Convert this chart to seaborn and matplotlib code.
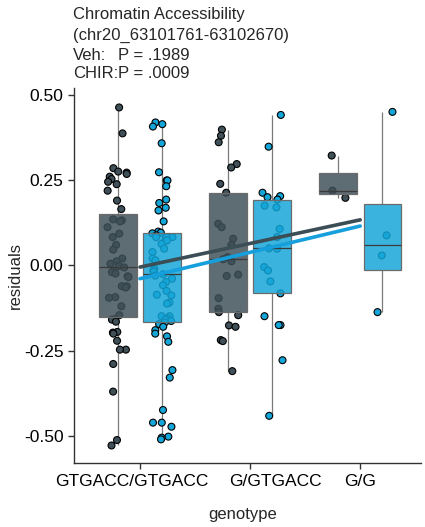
import numpy as np
import pandas as pd
import matplotlib
matplotlib.use('Agg')
import matplotlib.pyplot as plt
import matplotlib.transforms as mtransforms
import seaborn as sns

# genotype categories and treatment groups
genotypes = ['GTGACC/GTGACC', 'G/GTGACC', 'G/G']
treatments = ['Veh', 'CHIR']

# residuals
veh_ref = [0.463, 0.387, 0.285, 0.275, 0.272, 0.268, 0.260, 0.253, 0.245, 0.238,
           0.219, 0.190, 0.165, 0.135, 0.132, 0.129, 0.112, 0.093, 0.083, 0.060,
           0.046, 0.020, 0.012, 0.005, -0.002, -0.006, -0.015, -0.020, -0.024, -0.032,
           -0.034, -0.061, -0.061, -0.065, -0.093, -0.095, -0.120, -0.146, -0.158, -0.159,
           -0.165, -0.195, -0.197, -0.200, -0.221, -0.247, -0.247, -0.289, -0.370, -0.512,
           -0.528]
veh_het = [0.398, 0.380, 0.361, 0.297, 0.287, 0.239, 0.213, 0.122, 0.112, 0.078,
           0.060, 0.024, 0.018, 0.012, -0.027, -0.031, -0.096, -0.127, -0.137, -0.146,
           -0.176, -0.180, -0.219, -0.222, -0.310]
veh_alt = [0.322, 0.219, 0.198]

chir_ref = [0.419, 0.414, 0.407, 0.358, 0.273, 0.249, 0.249, 0.232, 0.193, 0.183,
            0.169, 0.161, 0.129, 0.099, 0.096, 0.094, 0.088, 0.083, 0.083, 0.083,
            0.073, 0.073, 0.063, 0.049, 0.039, 0.020, 0.015, -0.010, -0.015, -0.019,
            -0.026, -0.030, -0.039, -0.049, -0.058, -0.075, -0.086, -0.088, -0.109, -0.112,
            -0.149, -0.149, -0.156, -0.159, -0.163, -0.167, -0.172, -0.180, -0.190, -0.200,
            -0.208, -0.224, -0.307, -0.329, -0.424, -0.461, -0.461, -0.473, -0.502, -0.505,
            -0.510]
chir_het = [0.441, 0.348, 0.213, 0.203, 0.200, 0.193, 0.175, 0.170, 0.107, 0.083,
            0.050, 0.049, -0.005, -0.015, -0.047, -0.082, -0.149, -0.175, -0.175, -0.278,
            -0.441]
chir_alt = [0.450, 0.088, 0.029, -0.137]

p_values = {'Veh': '.1989', 'CHIR': '.0009'}

# long format table
rows = []
for trt, groups in [('Veh', [veh_ref, veh_het, veh_alt]),
                    ('CHIR', [chir_ref, chir_het, chir_alt])]:
    for g, vals in zip(genotypes, groups):
        for v in vals:
            rows.append({'genotype': g, 'treatment': trt, 'residuals': v})
df = pd.DataFrame(rows)
df['gcode'] = df['genotype'].map({g: i for i, g in enumerate(genotypes)})

palette = {'Veh': '#3f5058', 'CHIR': '#14a6d8'}
line_colors = {'Veh': '#3b4d55', 'CHIR': '#159fdc'}

sns.set_style('ticks')
plt.rcParams['font.family'] = ['Liberation Sans', 'DejaVu Sans']

fig = plt.figure(figsize=(4.25, 5.27), dpi=100)
ax = fig.add_axes([0.174, 0.121, 0.816, 0.712])

sns.boxplot(data=df, x='genotype', y='residuals', hue='treatment',
            order=genotypes, hue_order=treatments, palette=palette,
            saturation=1, width=0.8, gap=0.15, showfliers=False, showcaps=False,
            linecolor='#6b6b6b', linewidth=0.9, legend=False, ax=ax,
            medianprops=dict(color='#3a3a3a', linewidth=0.9),
            whiskerprops=dict(color='#7a7a7a', linewidth=0.9))

# boxes semi-transparent over the points, whiskers behind
for p in ax.patches:
    fc = p.get_facecolor()
    p.set_facecolor((fc[0], fc[1], fc[2], 0.84))
    p.set_zorder(3)
for ln in ax.lines:
    ln.set_zorder(1)
n_box_lines = len(ax.lines)

np.random.seed(3)
sns.stripplot(data=df, x='genotype', y='residuals', hue='treatment',
              order=genotypes, hue_order=treatments, palette=palette,
              dodge=True, jitter=0.2, size=5, linewidth=0.8,
              edgecolor='black', legend=False, ax=ax, zorder=2)

# medians on top of the boxes
for ln in ax.lines[:n_box_lines]:
    if len(ln.get_xdata()) == 2 and ln.get_ydata()[0] == ln.get_ydata()[1]:
        ln.set_zorder(4)

for trt in treatments:
    sub = df[df['treatment'] == trt]
    sns.regplot(data=sub, x='gcode', y='residuals', scatter=False, ci=None,
                truncate=True, color=line_colors[trt],
                line_kws=dict(linewidth=2.6, zorder=5), ax=ax)

ax.set_xlim(-0.6, 2.55)
ax.set_ylim(-0.58, 0.52)
ax.set_yticks([-0.5, -0.25, 0.0, 0.25, 0.5])
ax.set_yticklabels(['-0.50', '-0.25', '0.00', '0.25', '0.50'])
ax.set_xticks(range(len(genotypes)))
ax.set_xticklabels(genotypes)
ax.tick_params(axis='both', labelsize=12.5, colors='#333333', labelcolor='black',
               length=4, width=1)
# the reference labels sit a little off their ticks
for lab, dx in zip(ax.get_xticklabels(), [-8, 25, 0]):
    lab.set_transform(lab.get_transform() +
                      mtransforms.ScaledTranslation(dx / 100, 0, fig.dpi_scale_trans))
ax.set_xlabel('genotype', fontsize=12)
ax.set_ylabel('residuals', fontsize=12, labelpad=1)
ax.xaxis.set_label_coords(0.485, -0.117)
for s in ['left', 'bottom']:
    ax.spines[s].set_color('#333333')
    ax.spines[s].set_linewidth(1)
sns.despine(ax=ax)

# header text
fig.text(73 / 425, 1 - 15 / 527, 'Chromatin Accessibility', fontsize=12, va='center')
fig.text(73 / 425, 1 - 35 / 527, '(chr20_63101761-63102670)', fontsize=12, va='center')
for i, trt in enumerate(treatments):
    y = 1 - (55 + 19 * i) / 527
    fig.text(73 / 425, y, trt + ':', fontsize=12, va='center')
    fig.text(118 / 425, y, 'P = ' + p_values[trt], fontsize=12, va='center')

fig.savefig('out.png', dpi=100)
